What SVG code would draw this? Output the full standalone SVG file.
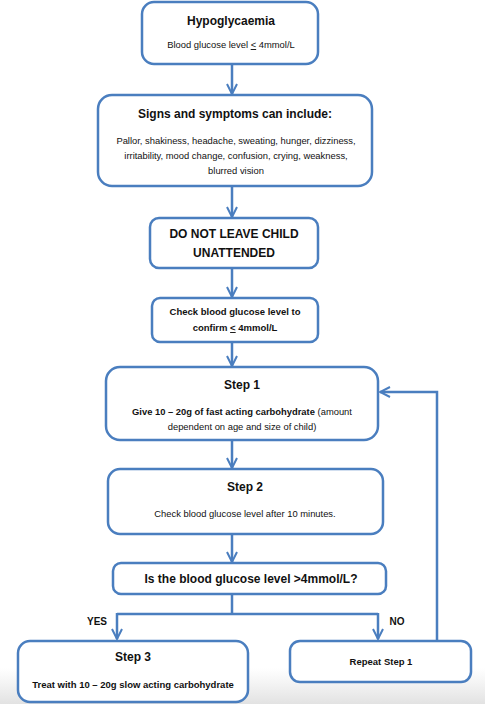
<svg xmlns="http://www.w3.org/2000/svg" width="485" height="704" viewBox="0 0 485 704">
<defs>
<marker id="arr" viewBox="0 0 12 12" refX="11" refY="6" markerWidth="12" markerHeight="12" markerUnits="userSpaceOnUse" orient="auto">
<path d="M1,1 L11,6 L1,11" fill="none" stroke="#4A7EBF" stroke-width="2"/>
</marker>
<linearGradient id="shade" x1="0" y1="0" x2="0" y2="1">
<stop offset="0" stop-color="#e6e6e6" stop-opacity="0"/>
<stop offset="1" stop-color="#e2e2e2" stop-opacity="1"/>
</linearGradient>
<style>
.box{fill:#fff;stroke:#4A7EBF;stroke-width:2.5}
.ln{fill:none;stroke:#4A7EBF;stroke-width:2.5}
text{font-family:"Liberation Sans",Arial,sans-serif;fill:#111;text-anchor:middle}
.t{font-size:12px;font-weight:bold}
.s{font-size:9.4px}
.b{font-size:9.5px;font-weight:bold}
.yn{font-size:10px;font-weight:bold}
</style>
</defs>
<rect width="485" height="704" fill="#fff"/>
<rect x="0" y="668" width="485" height="36" fill="url(#shade)"/>
<g id="connectors">
<line class="ln" x1="232" y1="64" x2="232" y2="94" marker-end="url(#arr)"/>
<line class="ln" x1="232" y1="186" x2="232" y2="217" marker-end="url(#arr)"/>
<line class="ln" x1="232" y1="268" x2="232" y2="297" marker-end="url(#arr)"/>
<line class="ln" x1="232" y1="342" x2="232" y2="366" marker-end="url(#arr)"/>
<line class="ln" x1="232" y1="440" x2="232" y2="468" marker-end="url(#arr)"/>
<line class="ln" x1="232" y1="534" x2="232" y2="562" marker-end="url(#arr)"/>
<polyline class="ln" points="232,594 232,614"/>
<polyline class="ln" points="117,614 378,614"/>
<line class="ln" x1="117" y1="613" x2="117" y2="639" marker-end="url(#arr)"/>
<line class="ln" x1="378" y1="613" x2="378" y2="639" marker-end="url(#arr)"/>
<polyline class="ln" points="437,641 437,392 380,392" marker-end="url(#arr)"/>
<text x="97" y="625" class="yn">YES</text>
<text x="397" y="625" class="yn">NO</text>
</g>
<g id="n1">
<rect class="box" x="142" y="2" width="176" height="62" rx="12"/>
<text x="231" y="25" class="t">Hypoglycaemia</text>
<text x="231" y="48" class="s">Blood glucose level <tspan text-decoration="underline">&lt;</tspan> 4mmol/L</text>
</g>
<g id="n2">
<rect class="box" x="98" y="95" width="274" height="91" rx="14"/>
<text x="235" y="118" class="t">Signs and symptoms can include:</text>
<text x="236" y="144" class="s">Pallor, shakiness, headache, sweating, hunger, dizziness,</text>
<text x="236" y="159" class="s">irritability, mood change, confusion, crying, weakness,</text>
<text x="236" y="174" class="s">blurred vision</text>
</g>
<g id="n3">
<rect class="box" x="150" y="218" width="168" height="50" rx="9"/>
<text x="234" y="238" class="t">DO NOT LEAVE CHILD</text>
<text x="234" y="257" class="t">UNATTENDED</text>
</g>
<g id="n4">
<rect class="box" x="152" y="298" width="166" height="44" rx="8"/>
<text x="235" y="315" class="b">Check blood glucose level to</text>
<text x="235" y="331" class="b">confirm <tspan text-decoration="underline">&lt;</tspan> 4mmol/L</text>
</g>
<g id="n5">
<rect class="box" x="106" y="367" width="272" height="73" rx="14"/>
<text x="242" y="389" class="t">Step 1</text>
<text x="242" y="415" class="s"><tspan font-weight="bold">Give 10 – 20g of fast acting carbohydrate</tspan> (amount</text>
<text x="242" y="430" class="s">dependent on age and size of child)</text>
</g>
<g id="n6">
<rect class="box" x="108" y="469" width="275" height="65" rx="12"/>
<text x="245" y="491" class="t">Step 2</text>
<text x="245" y="517" class="s">Check blood glucose level after 10 minutes.</text>
</g>
<g id="n7">
<rect class="box" x="113" y="563" width="273" height="31" rx="8"/>
<text x="251" y="583" class="t">Is the blood glucose level &gt;4mmol/L?</text>
</g>
<g id="n8">
<rect class="box" x="18" y="641" width="230" height="61" rx="12"/>
<text x="133" y="661" class="t">Step 3</text>
<text x="133" y="688" class="b">Treat with 10 – 20g slow acting carbohydrate</text>
</g>
<g id="n9">
<rect class="box" x="290" y="641" width="181" height="41" rx="10"/>
<text x="381" y="665" class="b">Repeat Step 1</text>
</g>
</svg>
